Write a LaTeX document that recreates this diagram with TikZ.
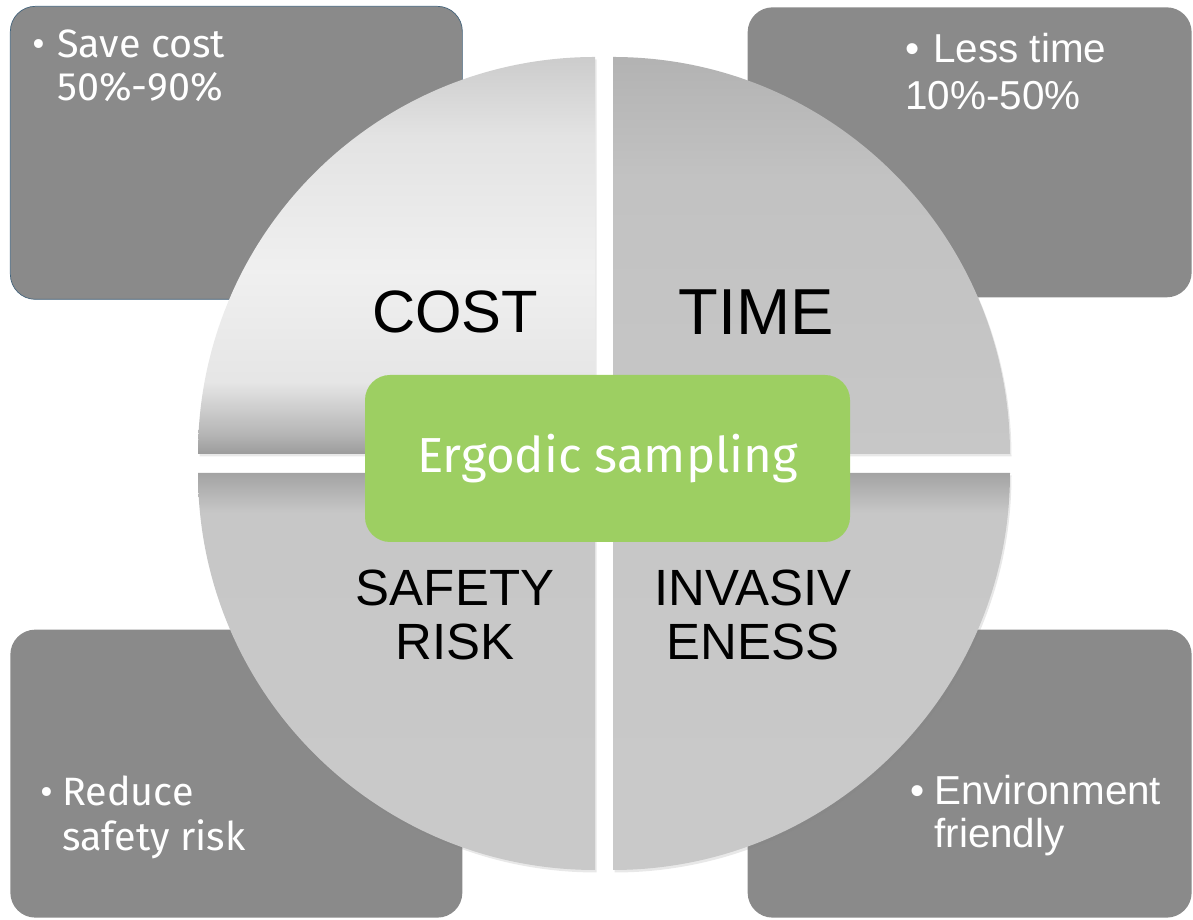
\documentclass[tikz,border=0pt]{standalone}
\usepackage{fontspec}
\setmainfont{Liberation Sans}
\newfontfamily\plexfont{Fira Sans}
\usetikzlibrary{shadows}

\definecolor{boxgray}{RGB}{138,138,138}
\definecolor{boxedge}{RGB}{68,100,124}
\definecolor{ergogreen}{RGB}{157,207,98}

% shadings of the four quarters (bottom at 25bp, top at 75bp)
\pgfdeclareverticalshading{costshade}{100bp}{color(0bp)=(black!39); color(25bp)=(black!39); color(27.5bp)=(black!29); color(34bp)=(black!10); color(48bp)=(black!6); color(65bp)=(black!11); color(75bp)=(black!20); color(100bp)=(black!20)}
\pgfdeclareverticalshading{timeshade}{100bp}{color(0bp)=(black!22); color(25bp)=(black!22); color(60bp)=(black!24); color(75bp)=(black!30); color(100bp)=(black!30)}
\pgfdeclareverticalshading{lowshade}{100bp}{color(0bp)=(black!21); color(25bp)=(black!21); color(70bp)=(black!22); color(75bp)=(black!36); color(100bp)=(black!36)}

\tikzset{
  cornerbox/.style={fill=boxgray, rounded corners=0.5cm, inner sep=0pt},
  quarter/.style={drop shadow={opacity=0.18, shadow xshift=0.03cm, shadow yshift=-0.05cm}},
  bigword/.style={font=\fontsize{#1}{#1}\selectfont, inner sep=0pt, anchor=base, align=center},
  boxtext/.style={text=white, inner sep=0pt, anchor=base west, align=left},
}

\begin{document}
\begin{tikzpicture}
  \useasboundingbox (0,0) rectangle (23.86,18.4);
  % side boxes
  \node[cornerbox, draw=boxedge, minimum width=9.04cm, minimum height=5.86cm, anchor=north west] (costbox) at (0.2,18.28) {};
  \node[cornerbox, minimum width=8.88cm, minimum height=5.8cm, anchor=north east] (timebox) at (23.84,18.26) {};
  \node[cornerbox, minimum width=9.04cm, minimum height=5.76cm, anchor=south west] (riskbox) at (0.2,0.04) {};
  \node[cornerbox, minimum width=8.88cm, minimum height=5.76cm, anchor=south east] (envbox) at (23.84,0.04) {};
  % the four quarters
  \shade[quarter, shading=costshade] (11.9,9.32) -- ++(-7.94,0) arc[start angle=180, end angle=90, radius=7.94] -- cycle;
  \shade[quarter, shading=timeshade] (12.26,9.32) -- ++(0,7.94) arc[start angle=90, end angle=0, radius=7.94] -- cycle;
  \shade[quarter, shading=lowshade] (12.26,8.94) -- ++(7.94,0) arc[start angle=0, end angle=-90, radius=7.94] -- cycle;
  \shade[quarter, shading=lowshade] (11.9,8.94) -- ++(0,-7.94) arc[start angle=270, end angle=180, radius=7.94] -- cycle;
  % quarter labels (base = last line)
  \node[bigword=34pt] (cost) at (9.1,11.74) {COST};
  \node[bigword=37pt] (time) at (15.12,11.7) {TIME};
  \node[bigword=29pt, font=\fontsize{29}{31}\selectfont] (safety) at (9.1,5.2) {SAFETY\\RISK};
  \node[bigword=29pt, font=\fontsize{29}{31}\selectfont] (invasive) at (15.06,5.2) {INVASIV\\ENESS};
  % box texts
  \node[boxtext, font=\plexfont\fontsize{22.5}{25}\selectfont] (costtext) at (0.64,16.38) {\makebox[0.5cm][l]{\textbullet}Save cost\\\hspace*{0.5cm}50\%-90\%};
  \node[boxtext, font=\fontsize{23}{27.3}\selectfont] (timetext) at (18.1,16.2) {\makebox[0.56cm][l]{\textbullet}Less time\\10\%-50\%};
  \node[boxtext, font=\plexfont\fontsize{22.5}{26}\selectfont] (risktext) at (0.8,1.38) {\makebox[0.44cm][l]{\textbullet}Reduce\\\hspace*{0.44cm}safety risk};
  \node[boxtext, font=\fontsize{23}{24.5}\selectfont] (envtext) at (18.2,1.44) {\makebox[0.48cm][l]{\textbullet}Environment\\\hspace*{0.48cm}friendly};
  % centre
  \node[fill=ergogreen, rounded corners=0.5cm, minimum width=9.7cm, minimum height=3.34cm, text=white, font=\plexfont\fontsize{28}{28}\selectfont] (ergodic) at (12.15,9.23) {Ergodic sampling};
\end{tikzpicture}
\end{document}
